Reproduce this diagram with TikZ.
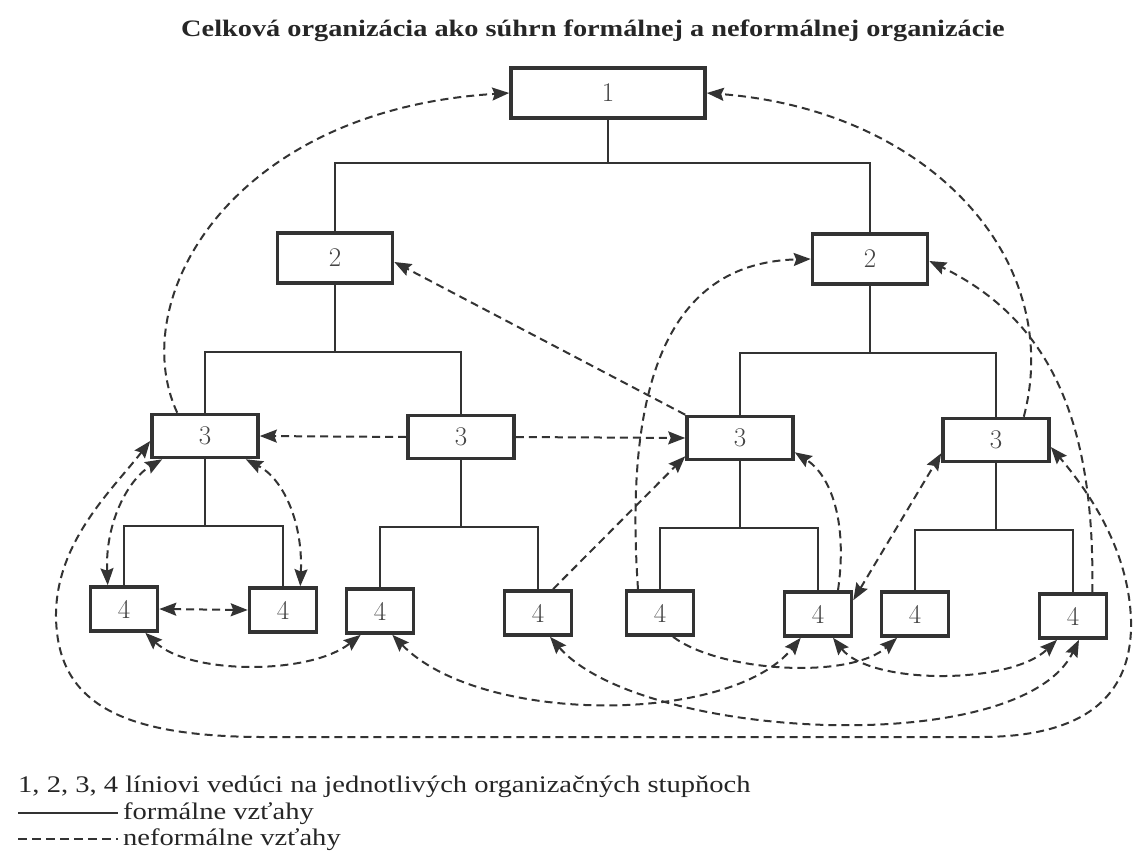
\documentclass[tikz,border=0pt]{standalone}
\usepackage{fontspec}
\usetikzlibrary{arrows.meta}
\newfontfamily\capfont[FakeStretch=1.2]{Liberation Serif}
\definecolor{ink}{HTML}{333333}
\definecolor{numc}{HTML}{454545}
\definecolor{txt}{HTML}{262626}
\begin{document}
\begin{tikzpicture}[x=1pt,y=-1pt,
  >={Stealth[length=17pt,width=13pt,inset=2.5pt]},
  box/.style={draw=ink, line width=3.6pt, fill=white, inner sep=0pt,
    text=numc, font=\fontsize{27}{30}\selectfont},
  lvl1/.style={box, minimum width=194pt, minimum height=50pt},
  lvl2/.style={box, minimum width=115pt, minimum height=50pt},
  lvl3/.style={box, minimum width=106pt, minimum height=43pt},
  lvl4/.style={box, minimum width=67pt, minimum height=44pt},
  tree/.style={draw=ink, line width=2.6pt},
  inf/.style={draw=ink, line width=2pt, dash pattern=on 8pt off 5pt},
  legdash/.style={draw=ink, line width=1.6pt, dash pattern=on 9pt off 5pt},
  title/.style={text=txt, font=\capfont\bfseries\fontsize{23.6}{28}\selectfont},
  legend/.style={text=txt, inner sep=0pt, font=\capfont\fontsize{23.8}{28}\selectfont}]
\useasboundingbox (0,0) rectangle (1137,861);

% heading
\node[title] (head) at (593,31) {Celková organizácia ako súhrn formálnej a neformálnej organizácie};

% organisation chart: line managers on four levels
\node[lvl1] (n1) at (608,93) {1};
\node[lvl2] (n2a) at (335,258) {2};
\node[lvl2] (n2b) at (870,259) {2};
\node[lvl3] (n3a) at (205,436) {3};
\node[lvl3] (n3b) at (461,437) {3};
\node[lvl3] (n3c) at (740,438) {3};
\node[lvl3] (n3d) at (996,440) {3};
\node[lvl4] (n4a) at (124,609) {4};
\node[lvl4] (n4b) at (283,610) {4};
\node[lvl4] (n4c) at (380,611) {4};
\node[lvl4] (n4d) at (538,613) {4};
\node[lvl4] (n4e) at (660,613) {4};
\node[lvl4] (n4f) at (818,614) {4};
\node[lvl4] (n4g) at (915,614) {4};
\node[lvl4] (n4h) at (1073,616) {4};

% formal relations (solid tree)
\coordinate (j1) at (608,163);
\coordinate (j2) at (335,352);
\coordinate (j3) at (870,353);
\coordinate (j4) at (205,526);
\coordinate (j5) at (461,527);
\coordinate (j6) at (740,528);
\coordinate (j7) at (996,530);
\draw[tree] (n1.south) -- (j1);
\draw[tree] (n2a.north) |- (j1) -| (n2b.north);
\draw[tree] (n2a.south) -- (j2);
\draw[tree] (n3a.north) |- (j2) -| (n3b.north);
\draw[tree] (n2b.south) -- (j3);
\draw[tree] (n3c.north) |- (j3) -| (n3d.north);
\draw[tree] (n3a.south) -- (j4);
\draw[tree] (n4a.north) |- (j4) -| (n4b.north);
\draw[tree] (n3b.south) -- (j5);
\draw[tree] (n4c.north) |- (j5) -| (n4d.north);
\draw[tree] (n3c.south) -- (j6);
\draw[tree] (n4e.north) |- (j6) -| (n4f.north);
\draw[tree] (n3d.south) -- (j7);
\draw[tree] (n4g.north) |- (j7) -| (n4h.north);

% informal relations (dashed)
\draw[inf,->] ([xshift=27pt]n3a.north west) .. controls (125,300) and (230,110) .. (n1.west);
\draw[inf,->] ([xshift=-27pt]n3d.north east) .. controls (1065,260) and (930,110) .. (n1.east);
\draw[inf,->] (n3c.north west) -- ([yshift=-4pt]n2a.east);
\draw[inf,->] (n3b.west) -- (n3a.east);
\draw[inf,->] (n3b.east) -- (n3c.west);
\draw[inf,<->] ([xshift=19pt]n4a.north west) .. controls (105,520) and (130,478) .. ([xshift=12pt]n3a.south west);
\draw[inf,<->] ([xshift=-18pt]n4b.north east) .. controls (303,520) and (282,478) .. ([xshift=-14pt]n3a.south east);
\draw[inf,<->] (n4a.east) -- (n4b.west);
\draw[inf,<->] ([xshift=-14pt]n4a.south east) .. controls (190,675) and (310,675) .. ([xshift=16pt]n4c.south west);
\draw[inf,<->] ([xshift=-23pt]n4c.south east) .. controls (480,725) and (730,725) .. ([xshift=18pt]n4f.south west);
\draw[inf,<->] ([xshift=12pt]n4d.south) .. controls (640,740) and (1020,760) .. ([xshift=6pt]n4h.south);
\draw[inf,<->] ([xshift=15pt]n4f.south) .. controls (870,685) and (1010,685) .. ([xshift=-16pt]n4h.south);
\draw[inf,->] ([xshift=13pt]n4e.south) .. controls (720,672) and (850,680) .. ([xshift=-18pt]n4g.south);
\draw[inf,->] ([xshift=15pt]n4d.north) -- ([yshift=5pt]n3c.south west);
\draw[inf,->] ([xshift=-22pt]n4e.north) .. controls (620,330) and (700,262) .. (n2b.west);
\draw[inf,->] ([xshift=20pt]n4f.north) .. controls (848,520) and (830,475) .. ([yshift=9pt]n3c.south east);
\draw[inf,<->] ([yshift=-10pt]n4f.north east) -- ([yshift=10pt]n3d.south west);
\draw[inf,->] ([xshift=-16pt]n4h.north east) .. controls (1095,420) and (1050,320) .. ([yshift=-2pt]n2b.east);
\draw[inf,<->] ([yshift=-5pt]n3a.west) .. controls (112,490) and (58,540) .. (56,612)
  .. controls (55,700) and (115,736) .. (260,737) -- (980,737)
  .. controls (1080,737) and (1133,700) .. (1131,620)
  .. controls (1129,560) and (1100,505) .. ([yshift=-7pt]n3d.east);

% key
\node[legend, anchor=base west] (key1) at (18,792) {1, 2, 3, 4 líniovi vedúci na jednotlivých organizačných stupňoch};
\coordinate (ks1) at (18,813);
\coordinate (ke1) at (118,813);
\draw[tree] (ks1) -- (ke1);
\node[legend, anchor=base west] (key2) at (123,819) {formálne vzťahy};
\coordinate (ks2) at (18,839);
\coordinate (ke2) at (118,839);
\draw[legdash] (ks2) -- (ke2);
\node[legend, anchor=base west] (key3) at (123,845) {neformálne vzťahy};
\end{tikzpicture}
\end{document}
